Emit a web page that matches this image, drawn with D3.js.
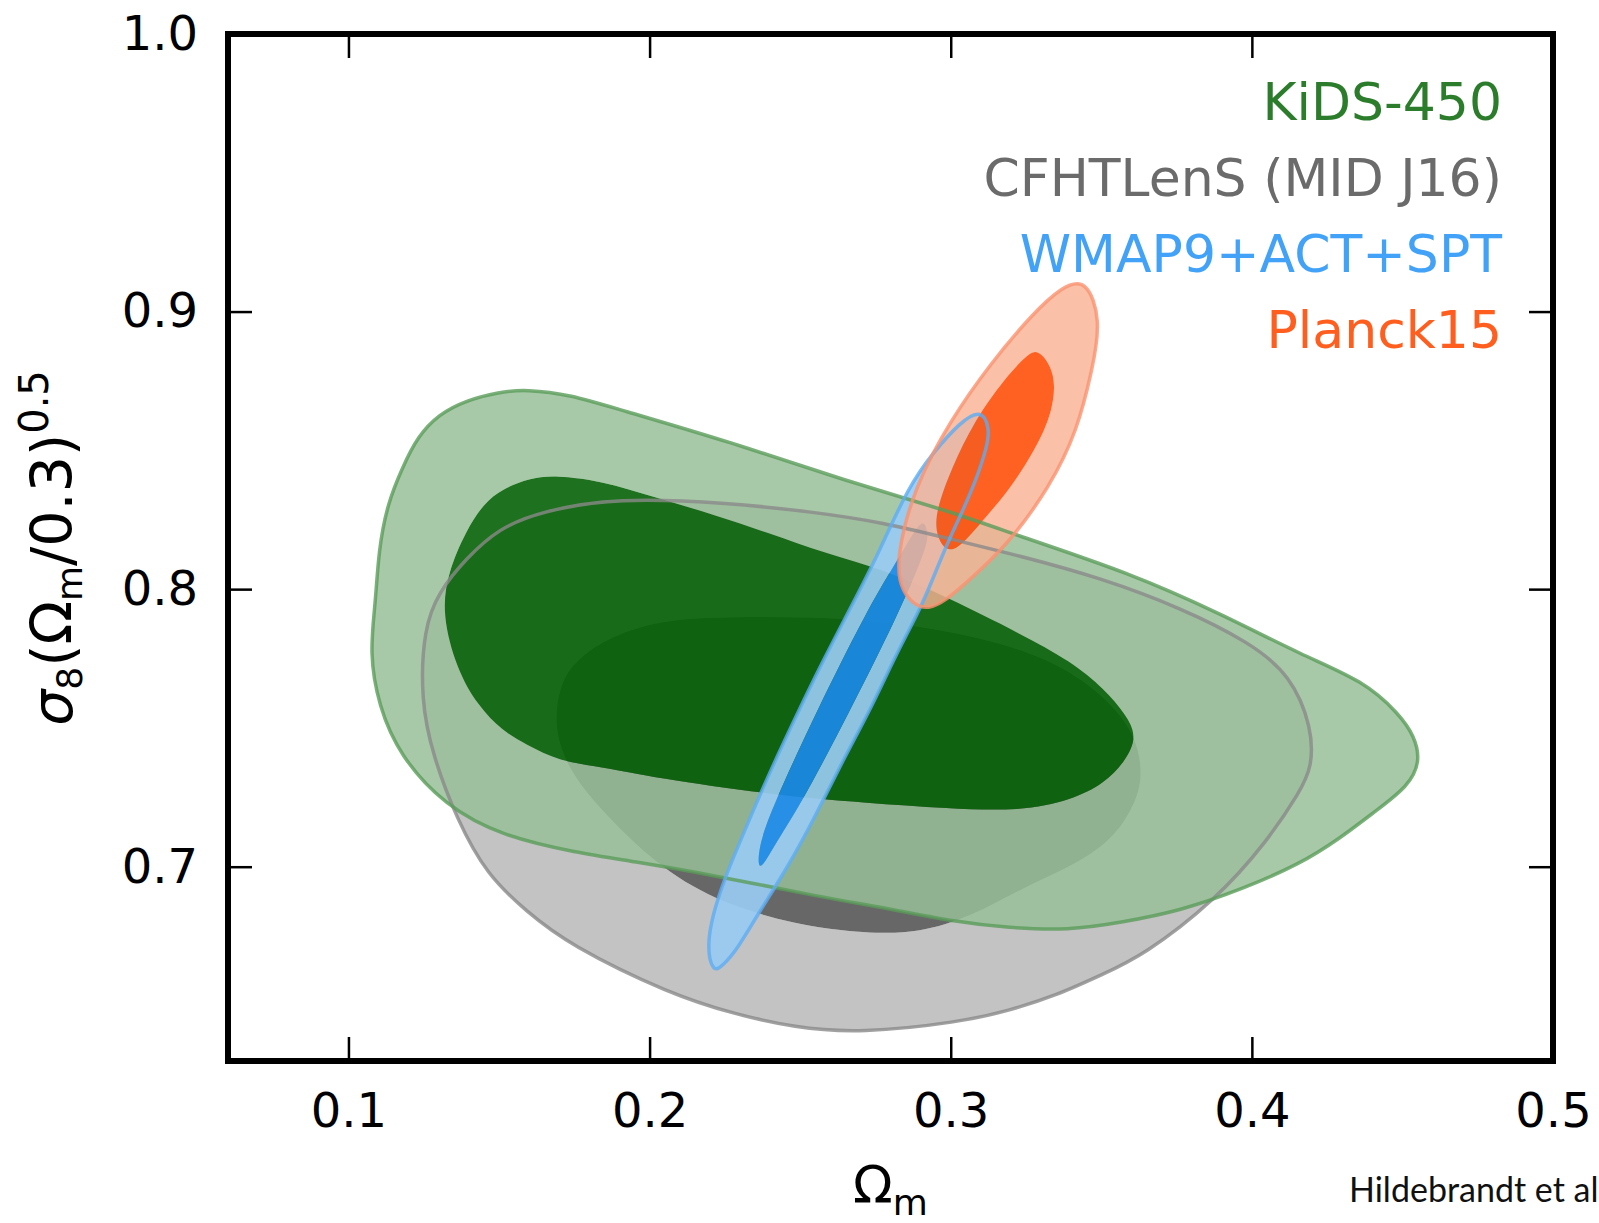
<!DOCTYPE html>
<html lang="en">
<head>
<meta charset="UTF-8">
<title>KiDS-450 S8 contours</title>
<style>
    body { margin: 0; background: #fff; }
    svg { display: block; }
</style>
</head>
<body>
<div id="content"></div>
<script src="https://d3js.org/d3.v7.min.js"></script>
<script>

    // axis ticks
    var xTicks = [0.1, 0.2, 0.3, 0.4, 0.5];
    var yTicks = [0.7, 0.8, 0.9, 1.0];

    // legend entries (top to bottom)
    var legendLabels = ["KiDS-450", "CFHTLenS (MID J16)", "WMAP9+ACT+SPT", "Planck15"];

    // contours as [Omega_m, sigma8 (Omega_m/0.3)^0.5] pairs
    var kidsOuter = [
        [0.109, 0.795], [0.110, 0.814], [0.113, 0.831], [0.118, 0.844], [0.123, 0.855], [0.130, 0.863],
        [0.139, 0.868], [0.150, 0.871], [0.159, 0.872], [0.174, 0.870], [0.189, 0.865], [0.227, 0.853],
        [0.265, 0.839], [0.300, 0.828], [0.323, 0.819], [0.359, 0.806], [0.390, 0.791], [0.417, 0.776],
        [0.437, 0.767], [0.449, 0.755], [0.454, 0.747], [0.456, 0.738], [0.452, 0.729], [0.441, 0.720],
        [0.429, 0.710], [0.416, 0.701], [0.397, 0.692], [0.376, 0.684], [0.357, 0.680], [0.339, 0.677],
        [0.319, 0.678], [0.302, 0.680], [0.279, 0.685], [0.257, 0.689], [0.221, 0.697], [0.194, 0.702],
        [0.176, 0.705], [0.151, 0.711], [0.132, 0.722], [0.117, 0.740], [0.110, 0.758], [0.107, 0.777]
    ];
    var kidsInner = [
        [0.131, 0.791], [0.133, 0.806], [0.139, 0.821], [0.145, 0.831], [0.151, 0.836], [0.160, 0.840],
        [0.169, 0.841], [0.184, 0.839], [0.202, 0.833], [0.221, 0.827], [0.240, 0.820], [0.258, 0.813],
        [0.278, 0.807], [0.299, 0.797], [0.323, 0.784], [0.340, 0.774], [0.351, 0.764], [0.358, 0.755],
        [0.362, 0.747], [0.358, 0.738], [0.351, 0.730], [0.340, 0.724], [0.323, 0.720], [0.299, 0.721],
        [0.272, 0.723], [0.240, 0.726], [0.202, 0.732], [0.184, 0.736], [0.170, 0.738], [0.159, 0.744],
        [0.151, 0.749], [0.143, 0.758], [0.136, 0.771]
    ];
    var cfhtOuter = [
        [0.124, 0.760], [0.125, 0.786], [0.130, 0.799], [0.139, 0.811], [0.150, 0.822], [0.164, 0.828],
        [0.189, 0.833], [0.227, 0.831], [0.253, 0.828], [0.278, 0.824], [0.300, 0.818], [0.323, 0.812],
        [0.350, 0.804], [0.377, 0.793], [0.399, 0.781], [0.413, 0.769], [0.420, 0.750], [0.420, 0.736],
        [0.416, 0.727], [0.405, 0.709], [0.388, 0.688], [0.364, 0.668], [0.350, 0.661], [0.336, 0.654],
        [0.319, 0.648], [0.303, 0.644], [0.270, 0.640], [0.248, 0.642], [0.228, 0.647], [0.207, 0.654],
        [0.173, 0.672], [0.159, 0.684], [0.146, 0.697], [0.136, 0.717], [0.128, 0.740]
    ];
    var cfhtInner = [
        [0.168, 0.749], [0.170, 0.766], [0.176, 0.775], [0.187, 0.783], [0.204, 0.789], [0.227, 0.790],
        [0.255, 0.790], [0.282, 0.788], [0.309, 0.783], [0.333, 0.775], [0.351, 0.762], [0.362, 0.747],
        [0.364, 0.731], [0.360, 0.720], [0.353, 0.709], [0.340, 0.700], [0.325, 0.693], [0.307, 0.682],
        [0.289, 0.676], [0.272, 0.676], [0.248, 0.679], [0.221, 0.688], [0.202, 0.701], [0.186, 0.718],
        [0.174, 0.733]
    ];
    var wmapOuter = [
        [0.221, 0.662], [0.219, 0.671], [0.221, 0.683], [0.225, 0.696], [0.230, 0.709], [0.239, 0.732],
        [0.249, 0.755], [0.257, 0.773], [0.270, 0.800], [0.276, 0.813], [0.286, 0.837], [0.294, 0.849],
        [0.303, 0.860], [0.310, 0.865], [0.313, 0.858], [0.312, 0.851], [0.308, 0.838], [0.303, 0.826],
        [0.297, 0.812], [0.291, 0.795], [0.282, 0.777], [0.274, 0.758], [0.264, 0.738], [0.255, 0.718],
        [0.246, 0.700], [0.236, 0.683], [0.229, 0.670], [0.224, 0.664]
    ];
    var wmapInner = [
        [0.236, 0.697], [0.236, 0.707], [0.241, 0.722], [0.255, 0.755], [0.272, 0.792], [0.282, 0.810],
        [0.287, 0.819], [0.291, 0.826], [0.293, 0.819], [0.290, 0.810], [0.283, 0.792], [0.266, 0.755],
        [0.250, 0.722], [0.241, 0.707]
    ];
    var planckOuter = [
        [0.345, 0.912], [0.350, 0.897], [0.347, 0.879], [0.342, 0.857], [0.333, 0.837], [0.319, 0.816],
        [0.305, 0.802], [0.292, 0.790], [0.283, 0.799], [0.282, 0.812], [0.288, 0.837], [0.300, 0.861],
        [0.313, 0.881], [0.327, 0.899], [0.337, 0.909]
    ];
    var planckInner = [
        [0.329, 0.887], [0.335, 0.878], [0.334, 0.864], [0.328, 0.850], [0.319, 0.835], [0.310, 0.824],
        [0.300, 0.811], [0.295, 0.819], [0.295, 0.828], [0.300, 0.843], [0.308, 0.861], [0.318, 0.876],
        [0.325, 0.884]
    ];

    var width = 1599, height = 1223;
    var plotLeft = 228, plotRight = 1553, plotTop = 34, plotBottom = 1061;
    var font = "'DejaVu Sans', sans-serif";

    var svg = d3.select("#content")
        .append("svg")
        .attr("width", width)
        .attr("height", height);

    //scales
    var xScale = d3.scaleLinear().domain([0.06, 0.5]).range([plotLeft, plotRight]);
    var yScale = d3.scaleLinear().domain([0.63, 1.0]).range([plotBottom, plotTop]);

    // smooth closed spline through the traced points
    var contourLine = d3.line()
        .x(function (d) { return xScale(d[0]); })
        .y(function (d) { return yScale(d[1]); })
        .curve(d3.curveBasisClosed);

    // each data set: outer 95% band (ring) and inner 68% region
    var sets = [
        {outer: cfhtOuter, inner: cfhtInner, ring: "#c3c3c3", ringOp: 1, core: "#676767", coreOp: 1, edge: "#8a8a8a"},
        {outer: kidsOuter, inner: kidsInner, ring: "rgb(153,191,153)", ringOp: 0.85, core: "rgb(6,98,6)", coreOp: 0.9, edge: "#5a9c5a"},
        {outer: wmapOuter, inner: wmapInner, ring: "rgb(153,203,242)", ringOp: 0.92, core: "rgb(28,139,238)", coreOp: 0.9, edge: "#5eacf2"},
        {outer: planckOuter, inner: planckInner, ring: "rgb(249,178,149)", ringOp: 0.82, core: "rgb(255,80,10)", coreOp: 0.9, edge: "#fa9270"}
    ];

    var fills = svg.append("g");
    sets.forEach(function (s) {
        fills.append("path")
            .attr("d", contourLine(s.outer) + contourLine(s.inner))
            .attr("fill-rule", "evenodd")
            .attr("fill", s.ring)
            .attr("fill-opacity", s.ringOp);
        fills.append("path")
            .attr("d", contourLine(s.inner))
            .attr("fill", s.core)
            .attr("fill-opacity", s.coreOp);
    });

    // outlines of the outer contours go on top of all fills
    var edges = svg.append("g");
    sets.forEach(function (s) {
        edges.append("path")
            .attr("d", contourLine(s.outer))
            .attr("fill", "none")
            .attr("stroke", s.edge)
            .attr("stroke-opacity", 0.8)
            .attr("stroke-width", 3.5);
    });

    //axis:
    var xAxisBottom = d3.axisBottom(xScale).tickValues(xTicks).tickSizeInner(-24).tickSizeOuter(0)
        .tickPadding(32).tickFormat(d3.format(".1f"));
    var xAxisTop = d3.axisTop(xScale).tickValues(xTicks).tickSizeInner(-24).tickSizeOuter(0).tickFormat("");
    var yAxisLeft = d3.axisLeft(yScale).tickValues(yTicks).tickSizeInner(-24).tickSizeOuter(0)
        .tickPadding(30).tickFormat(d3.format(".1f"));
    var yAxisRight = d3.axisRight(yScale).tickValues(yTicks).tickSizeInner(-24).tickSizeOuter(0).tickFormat("");

    svg.append("g").attr("transform", "translate(0," + plotBottom + ")").call(xAxisBottom);
    svg.append("g").attr("transform", "translate(0," + plotTop + ")").call(xAxisTop);
    svg.append("g").attr("transform", "translate(" + plotLeft + ",0)").call(yAxisLeft);
    svg.append("g").attr("transform", "translate(" + plotRight + ",0)").call(yAxisRight);

    svg.selectAll(".domain").remove();
    svg.selectAll(".tick line").attr("stroke", "#000").attr("stroke-width", 2.5);
    svg.selectAll(".tick text")
        .attr("fill", "#000")
        .style("font-family", font)
        .style("font-size", "48px");

    // frame
    svg.append("rect")
        .attr("x", plotLeft)
        .attr("y", plotTop)
        .attr("width", plotRight - plotLeft)
        .attr("height", plotBottom - plotTop)
        .attr("fill", "none")
        .attr("stroke", "#000")
        .attr("stroke-width", 6);

    // legend
    var legendColors = ["#2b7d2b", "#6b6b6b", "#42a2f7", "#ff5e1f"];
    svg.append("g").selectAll("text")
        .data(legendLabels)
        .enter().append("text")
        .attr("x", 1502)
        .attr("y", function (d, i) { return 120 + i * 76; })
        .attr("text-anchor", "end")
        .attr("fill", function (d, i) { return legendColors[i]; })
        .style("font-family", font)
        .style("font-size", "52px")
        .text(function (d) { return d; });

    // y label
    var yt = svg.append("text")
        .attr("transform", "translate(72,548) rotate(-90)")
        .attr("text-anchor", "middle")
        .attr("fill", "#000")
        .style("font-family", font)
        .style("font-size", "57px");
    yt.append("tspan").style("font-style", "italic").text("σ");
    yt.append("tspan").attr("dy", 10).style("font-size", "36px").text("8");
    yt.append("tspan").attr("dy", -10).text("(Ω");
    yt.append("tspan").attr("dy", 10).style("font-size", "36px").text("m");
    yt.append("tspan").attr("dy", -10).text("/0.3)");
    yt.append("tspan").attr("dy", -24).style("font-size", "40px").text("0.5");

    // x label
    var xt = svg.append("text")
        .attr("x", (plotLeft + plotRight) / 2)
        .attr("y", 1203)
        .attr("text-anchor", "middle")
        .attr("fill", "#000")
        .style("font-family", font)
        .style("font-size", "52px");
    xt.append("tspan").text("Ω");
    xt.append("tspan").attr("dy", 12).style("font-size", "36px").text("m");

    // credit line at the bottom right
    svg.append("text")
        .attr("x", 1349)
        .attr("y", 1202)
        .attr("fill", "#111")
        .style("font-family", "Lato, 'DejaVu Sans', sans-serif")
        .style("font-size", "34px")
        .text("Hildebrandt et al");

</script>
</body>
</html>
